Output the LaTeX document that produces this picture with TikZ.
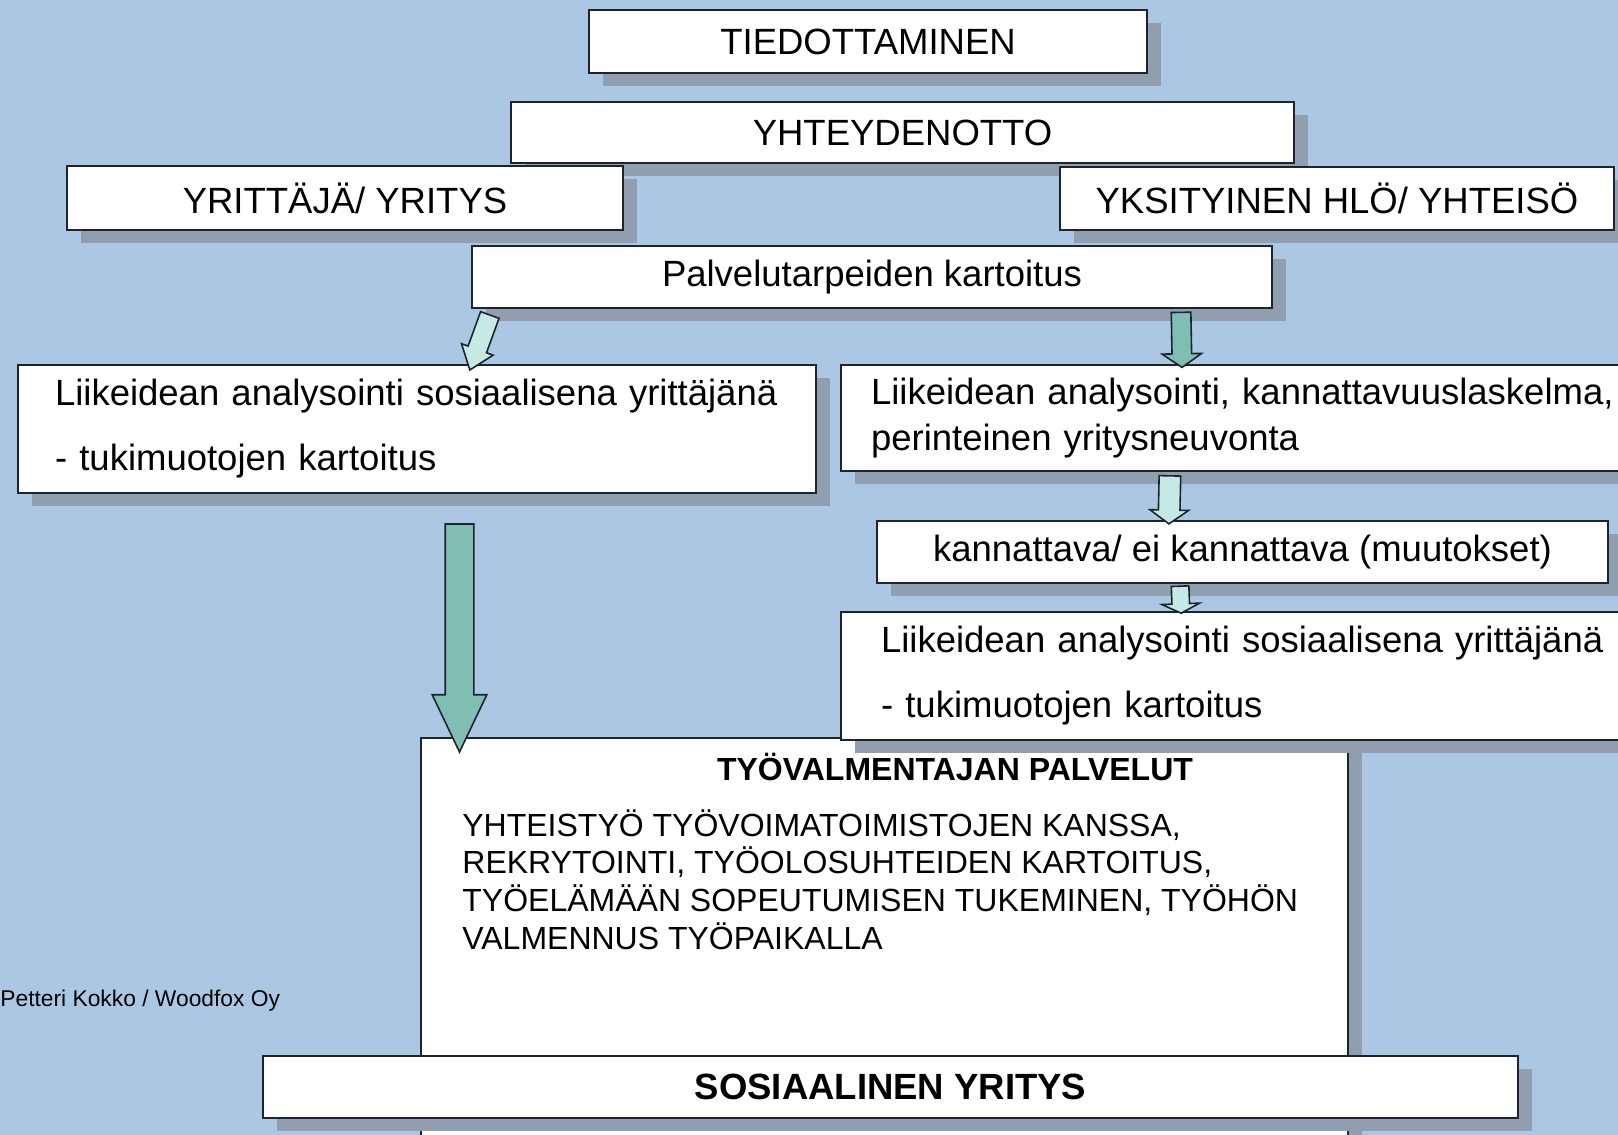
\documentclass[tikz,border=0pt]{standalone}
\usepackage{fontspec}
\setmainfont{Liberation Sans}
\usetikzlibrary{calc,shadows,shapes.arrows}

\definecolor{bgblue}{RGB}{172,199,228}
\definecolor{shadowgray}{RGB}{145,158,175}
\definecolor{edgedark}{RGB}{30,36,46}
\definecolor{arrowteal}{RGB}{128,190,180}
\definecolor{arrowlight}{RGB}{198,233,228}

\tikzset{
  box/.style={draw=edgedark, line width=1pt, fill=white, inner sep=0pt,
    drop shadow={shadow xshift=7pt, shadow yshift=-6.5pt, fill=shadowgray, opacity=1},
    font=\fontsize{18.25}{23}\selectfont},
  blockarrow/.style={single arrow, draw=edgedark, line width=0.8pt, inner xsep=0pt}
}

\begin{document}
\begin{tikzpicture}[x=0.5pt,y=-0.5pt]
  \useasboundingbox (0,0) rectangle (1618,1135);
  \clip (0,0) rectangle (1618,1135);
  \fill[bgblue] (0,0) rectangle (1618,1135);

  % boxes
  \node[box, minimum width=279pt, minimum height=31.5pt] (tied) at (868,41.5) {TIEDOTTAMINEN};
  \node[box, minimum width=391.5pt, minimum height=30.5pt] (yht) at (902.5,132.5) {YHTEYDENOTTO};
  \node[box, minimum width=278pt, minimum height=32pt] (yrit) at (345,198) {YRITTÄJÄ/ YRITYS};
  \node[box, minimum width=277pt, minimum height=31.5pt] (yksi) at (1337,198.5) {YKSITYINEN HLÖ/ YHTEISÖ};
  \node[box, minimum width=400pt, minimum height=31pt] (palv) at (872,277) {Palvelutarpeiden kartoitus};
  \node[box, anchor=north west, align=left, text width=362pt, inner xsep=18.5pt, minimum height=64pt] (left1) at (17,364)
    {Liikeidean analysointi sosiaalisena yrittäjänä\\[9.5pt] - tukimuotojen kartoitus};
  \node[box, anchor=north west, align=left, text width=380pt, inner xsep=15pt, minimum height=53pt] (right1) at (840,364)
    {Liikeidean analysointi, kannattavuuslaskelma,\\ perinteinen yritysneuvonta};
  \node[box, minimum width=365.5pt, minimum height=31pt] (kann) at (1242.5,552) {kannattava/ ei kannattava (muutokset)};
  \node[box, anchor=north west, minimum width=463.5pt, minimum height=220pt] (tv) at (420,737) {};
  \node[box, anchor=north west, align=left, text width=380pt, inner xsep=20pt, minimum height=64pt] (right2) at (840,611)
    {Liikeidean analysointi sosiaalisena yrittäjänä\\[9.5pt] - tukimuotojen kartoitus};
  \node[box, minimum width=627.5pt, minimum height=31pt, font=\bfseries\fontsize{18.25}{23}\selectfont] (sos) at (890.5,1087) {SOSIAALINEN YRITYS};

  % text in the big box
  \node[font=\bfseries\fontsize{16}{19}\selectfont] (tvtitle) at ($(tv.north west)+(535,30)$) {TYÖVALMENTAJAN PALVELUT};
  \node[anchor=north west, align=left, inner sep=0pt, font=\fontsize{16}{18.9}\selectfont] (tvbody) at ($(tv.north west)+(42,72)$)
    {YHTEISTYÖ TYÖVOIMATOIMISTOJEN KANSSA,\\ REKRYTOINTI, TYÖOLOSUHTEIDEN KARTOITUS,\\ TYÖELÄMÄÄN SOPEUTUMISEN TUKEMINEN, TYÖHÖN\\ VALMENNUS TYÖPAIKALLA};

  \node[anchor=west, inner sep=0pt, font=\fontsize{11.4}{13}\selectfont] (credit) at (0,1001) {Petteri Kokko / Woodfox Oy};

  % arrow ends
  \coordinate (a1s) at ($(palv.south west)+(21,0)$);
  \coordinate (a1e) at ($(left1.north west)+(455,0)$);
  \coordinate (a2s) at ($(palv.south west)+(710,0)$);
  \coordinate (a2e) at ($(right1.north west)+(342,0)$);
  \coordinate (a3s) at ($(right1.south west)+(330,0)$);
  \coordinate (a3e) at ($(kann.north west)+(293,0)$);
  \coordinate (a4s) at ($(kann.south west)+(304,0)$);
  \coordinate (a4e) at ($(right2.north west)+(341,0)$);
  \coordinate (a5s) at ($(left1.south west)+(442.5,15)$);
  \coordinate (a5e) at ($(tv.north west)+(39.5,0)$);

  \foreach \src/\dst/\hw/\ext/\ang/\col in {
      a1s/a1e/4.5pt/3.5pt/75/arrowlight,
      a2s/a2e/4.5pt/5pt/111/arrowteal,
      a3s/a3e/5pt/4.25pt/109/arrowlight,
      a4s/a4e/4pt/5pt/127/arrowlight,
      a5s/a5e/6.75pt/6.5pt/51/arrowteal}
    \path let \p1=($(\dst)-(\src)$), \n1={veclen(\x1,\y1)} in
      (\src) -- (\dst) node[blockarrow, fill=\col, inner ysep=\hw, single arrow head extend=\ext,
        single arrow tip angle=\ang, minimum height=\n1, midway, sloped, allow upside down] {};
\end{tikzpicture}
\end{document}
